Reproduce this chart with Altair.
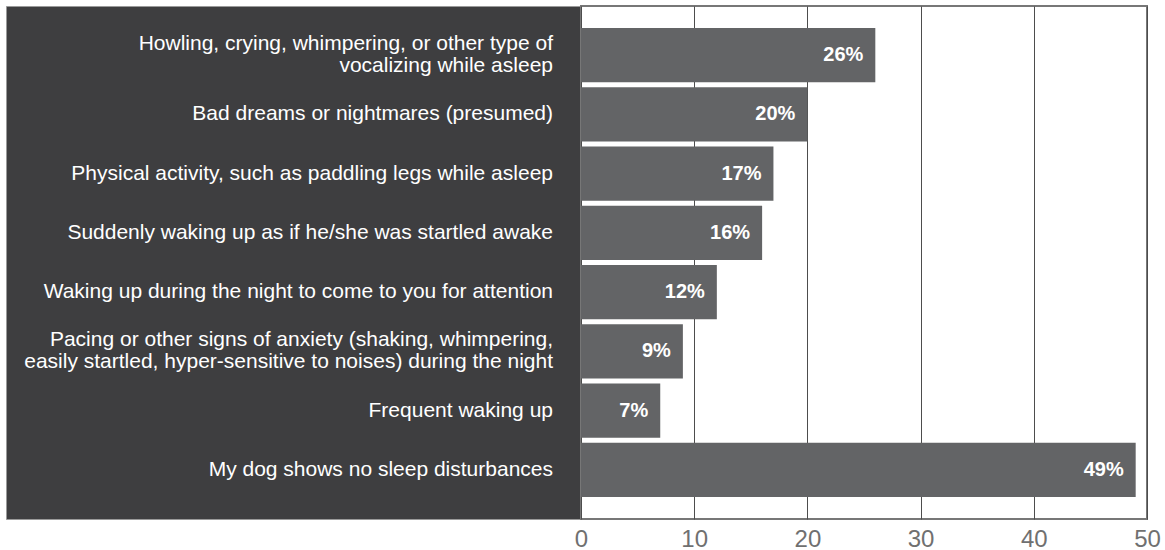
import altair as alt
import pandas as pd

# Survey answers, top to bottom, and the share of owners giving each one
categories = [
    "Howling, crying, whimpering, or other type of\nvocalizing while asleep",
    "Bad dreams or nightmares (presumed)",
    "Physical activity, such as paddling legs while asleep",
    "Suddenly waking up as if he/she was startled awake",
    "Waking up during the night to come to you for attention",
    "Pacing or other signs of anxiety (shaking, whimpering,\neasily startled, hyper-sensitive to noises) during the night",
    "Frequent waking up",
    "My dog shows no sleep disturbances",
]
shares = [26, 20, 17, 16, 12, 9, 7, 49]
tick_values = [0, 10, 20, 30, 40, 50]

df = pd.DataFrame({"answer": categories, "share": shares})
df["lines"] = [c.count("\n") + 1 for c in categories]

FONT = "Liberation Sans"
H = 513
LINE_H = 22

y_enc = alt.Y(
    "answer:N",
    sort=categories,
    axis=None,
    scale=alt.Scale(type="band", paddingInner=0.084, paddingOuter=0.37),
)

label_style = dict(
    align="right",
    baseline="middle",
    color="white",
    font=FONT,
    fontSize=21,
    lineBreak="\n",
    lineHeight=LINE_H,
)

# Left panel: dark block carrying the answer texts (two-line answers are
# lifted by half a line so the block sits centred on its bar)
one_line = (
    alt.Chart(df)
    .transform_filter("datum.lines == 1")
    .mark_text(**label_style)
    .encode(y=y_enc, x=alt.value(547), text="answer:N")
)
two_line = (
    alt.Chart(df)
    .transform_filter("datum.lines == 2")
    .mark_text(dy=-LINE_H / 2, **label_style)
    .encode(y=y_enc, x=alt.value(547), text="answer:N")
)
labels = (one_line + two_line).properties(
    width=575,
    height=H,
    view=alt.ViewBackground(fill="#3e3e40", stroke="#9a9a9a", strokeWidth=1),
)

x_enc = alt.X(
    "share:Q",
    scale=alt.Scale(domain=[0, 50], nice=False),
    axis=alt.Axis(
        values=tick_values,
        title=None,
        domain=False,
        ticks=False,
        grid=True,
        gridColor="#4d4d4d",
        gridWidth=1,
        labelFont=FONT,
        labelFontSize=24,
        labelColor="#707070",
        labelPadding=8,
        labelFlush=False,
    ),
)

bars = (
    alt.Chart(df)
    .mark_bar(color="#636466", cornerRadius=0)
    .encode(y=y_enc, x=x_enc)
)

values = (
    alt.Chart(df)
    .transform_calculate(pct="datum.share + '%'")
    .mark_text(
        align="right",
        baseline="middle",
        dx=-12,
        color="white",
        font=FONT,
        fontSize=20,
        fontWeight="bold",
    )
    .encode(y=y_enc, x="share:Q", text="pct:N")
)

plot = (bars + values).properties(
    width=566,
    height=H,
    view=alt.ViewBackground(fill="white", stroke="#777777", strokeWidth=2),
)

chart = (
    alt.hconcat(labels, plot, spacing=0, bounds="flush")
    .properties(padding={"left": 5, "top": 5, "right": 0, "bottom": 0})
    .configure(background="white")
)

chart.save("out.html", embed_options={"renderer": "svg", "actions": False})
